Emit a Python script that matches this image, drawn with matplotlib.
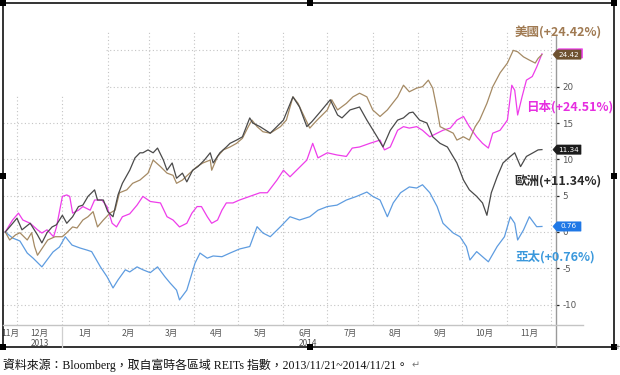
import matplotlib
matplotlib.use('Agg')
import matplotlib.pyplot as plt
import matplotlib.dates as mdates
import matplotlib.transforms as mtransforms
from matplotlib.patches import Rectangle, Polygon
from matplotlib.lines import Line2D
import numpy as np
import pandas as pd

plt.rcParams['font.family'] = ['Noto Sans CJK TC', 'DejaVu Sans']

# ---------------- data (days since 2013-11-21, % change) ----------------
BASE_DATE = '2013-11-21'

us_days = [2,5,9,12,17,20,22,24,28,31,36,41,44,48,51,55,58.5,62,65,69,73.5,77,80,85,89,94,99.5,103,108,112.5,
           116.6,119,123,128,133,137,142,143,147,151,155.5,160,164,168,170.5,174,178,183,190,194,198.5,202,205,210,
           215,222,225,229,235,239.5,244,249,253,258,263,270,274,278,283,287,291,294,297,299,304,308,310.5,315,319,
           323,326,331,335,340,345,349,352,356,360,364,366,368.6]
us_vals = [0.0,-1.1,-0.4,-0.1,-1.1,-0.1,-2.0,-3.2,-2.0,-1.1,-0.65,-0.65,-0.1,0.7,0.55,1.65,2.1,2.8,0.7,1.65,
           2.6,3.0,5.4,5.8,6.7,7.15,8.1,9.9,9.0,8.1,7.8,6.7,7.15,8.1,9.0,9.5,9.9,8.5,10.4,11.3,
           11.7,12.2,12.9,14.5,15.4,14.5,13.8,13.6,14.5,15.4,18.6,17.7,16.4,14.3,15.4,16.8,18.2,16.8,17.7,18.6,
           19.1,18.6,16.8,15.9,16.8,18.6,20.2,19.3,19.8,20.0,20.9,19.8,16.8,14.5,14.0,13.6,12.65,13.1,12.65,14.5,
           15.4,17.7,20.0,21.9,23.25,25.0,24.8,24.1,23.66,23.25,23.9,24.42]

eu_days = [2,5,10,13.4,19,24,27,30.5,34,37,41,44,48,52,55,58.5,63,65,69,72,75.6,79,82,87,90.6,94,96,99.5,103,106,
           110,112.5,116,119,123,126,130,133.6,138,142,144,148.6,153,155.5,160,164,169,171,176,183,192,198.5,203,208,
           211.5,217,224,229,232,237.5,244,249,256,260,265,270,274,278,280.5,285,290,294,299,304,310.5,315,319,324,
           328,331,334,338,342,347,350,354,358,362.5,366,368.6]
eu_vals = [0.0,0.7,1.9,0.3,1.2,-0.4,-1.5,-0.1,0.7,1.0,2.3,1.2,2.1,3.5,3.7,4.9,5.8,4.4,4.4,2.8,
           2.1,5.1,6.7,8.5,10.2,10.9,10.9,11.3,10.9,11.55,9.9,8.5,9.5,7.4,8.1,6.9,8.5,9.0,9.9,10.9,
           9.5,10.9,11.7,12.2,12.65,13.1,15.7,15.0,14.5,13.6,15.4,18.6,17.2,14.5,15.2,16.5,18.2,16.1,15.7,16.8,
           17.2,15.4,13.1,11.7,14.0,15.4,15.7,16.4,16.5,15.4,15.0,13.1,12.2,11.7,9.5,7.15,5.8,4.9,4.0,2.3,
           5.4,7.6,9.5,10.4,10.9,9.0,10.4,10.9,11.3,11.34]

jp_days = [2,5,7,11,14,19,24,27,30.5,35,37,41,44,46,48,52,55,60,63,68,71.5,75,78,82,87,92,96,101,108,112.5,
           116.6,121,126,129.5,133,136,140,143,147,150,153,157.5,162,169,176,181,187.6,192,196.5,201,
           208,212,215.6,222,228.6,235,239,244,251,258,261,265,270,274,278,283,287,292,297,301,
           306,310.5,315,319,324,328,332,335,340,345,348,350,352,355,358,362,365,368.6]
jp_vals = [0.0,1.0,1.65,2.6,1.65,1.2,0.3,-0.14,0.3,-0.65,0.7,4.9,5.1,4.9,2.6,3.0,3.5,3.0,4.4,4.4,
           3.5,1.2,0.7,2.1,2.5,3.7,4.9,4.2,4.0,2.1,1.65,0.7,1.2,2.6,3.5,3.5,2.1,1.2,1.65,3.0,
           4.0,4.0,4.4,4.9,5.4,5.4,7.15,8.5,7.6,8.5,9.9,12.2,10.2,10.9,10.6,10.4,11.55,11.7,12.2,12.65,
           11.3,11.7,14.0,14.5,14.3,14.5,14.0,13.1,13.6,14.0,14.3,15.4,15.9,14.5,13.1,12.2,11.55,13.6,14.0,15.4,
           20.2,19.5,16.1,18.6,20.9,21.4,22.7,24.51]

ap_days = [2,7,12,17,21,27,30.5,34.6,39,43,47.6,53,58,61,67,71.5,75.6,79,84,87,92,96,101,106,111,114.5,119,121,126,131.6,
           135,140,144,150,155.5,162,169,174,178,183,190,196.5,203,210,215.6,222,228.6,235,242,249,
           253,258,263,267,272,278,283,287,292,297,301,308,312.6,317,319.4,324,328,332,338,343,
           347,350,352,356,360,365,368.6]
ap_vals = [0.0,-0.83,-1.24,-2.9,-3.6,-4.8,-3.85,-2.75,-2.06,-0.65,-1.8,-2.2,-2.5,-2.7,-4.8,-6.15,-7.7,-6.6,-5.2,-5.5,
           -4.8,-5.2,-5.6,-4.8,-6.15,-7.0,-8.0,-9.35,-8.0,-4.3,-2.9,-3.6,-3.3,-3.4,-2.9,-2.34,-2.0,0.73,-0.14,-0.65,
           0.73,2.1,1.65,2.1,3.0,3.5,3.7,4.4,4.9,5.5,4.9,4.4,2.1,4.0,5.4,6.2,6.05,6.5,5.4,3.5,
           1.2,-0.14,-0.65,-2.0,-3.85,-2.7,-3.4,-4.1,-2.0,-0.65,2.1,1.2,-1.1,0.28,2.1,0.73,0.76]

series_labels = ['美國(+24.42%)', '日本(+24.51%)', '歐洲(+11.34%)', '亞太(+0.76%)']
last_values = [24.42, 24.51, 11.34, 0.76]
month_labels = ['11月', '12月', '1月', '2月', '3月', '4月', '5月', '6月', '7月', '8月', '9月', '10月', '11月']
year_labels = ['2013', '2014']
y_ticks = [-10, -5, 0, 5, 10, 15, 20, 25]
caption = '資料來源：Bloomberg，取自富時各區域 REITs 指數，2013/11/21~2014/11/21。'

# ---------------- styling ----------------
C_US = '#a58a64'
C_EU = '#4a4a4a'
C_JP = '#ee3dea'
C_AP = '#5e9ce0'
W, H = 620, 375


def fx(px):
    return px / W


def fy(py):
    return 1 - py / H


fig = plt.figure(figsize=(W / 100, H / 100), dpi=100)
ax = fig.add_axes([fx(3), fy(325), (556 - 3) / W, (325 - 30) / H])

base = mdates.date2num(np.datetime64(BASE_DATE))
grid_kw = dict(color='#c4c4c4', lw=0.8, ls=(0, (1, 2.2)))

for d, v, c in [(ap_days, ap_vals, C_AP), (jp_days, jp_vals, C_JP),
                (us_days, us_vals, C_US), (eu_days, eu_vals, C_EU)]:
    ax.plot(base + np.array(d), v, color=c, lw=0.9, zorder=3)

ax.set_xlim(base + 0.44, base + 378.2)
ax.set_ylim(-12.8, 27.8)

month_starts = mdates.date2num(pd.date_range('2013-12-01', '2014-12-01', freq='MS').values)
ax.set_xticks(month_starts)
ax.set_axisbelow(True)
ax.xaxis.grid(True, **grid_kw)
ax.tick_params(axis='x', length=0, labelbottom=False)

ax.yaxis.tick_right()
ax.set_yticks(y_ticks)
ax.set_yticklabels([str(t) if t != 25 else '' for t in y_ticks])
ax.yaxis.grid(True, **grid_kw)
ax.tick_params(axis='y', length=2.5, width=0.9, color='#222222', pad=2,
               labelsize=6.3, labelcolor='#555555', direction='out')
for lab in ax.get_yticklabels():
    lab.set_family('DejaVu Sans')
for s in ax.spines.values():
    s.set_visible(False)

# blank legend area in top-left (grid hidden there)
ax.add_patch(Rectangle((0, (325 - 96) / 295), (105 - 3) / 553, 1 - (325 - 96) / 295,
                       transform=ax.transAxes, fc='white', ec='none', zorder=1))

# axis lines
fig.add_artist(Line2D([fx(556), fx(556)], [fy(36), fy(347)], color='#9a9a9a', lw=1.0))
fig.add_artist(Line2D([fx(3), fx(583)], [fy(325), fy(325)], color='#c4c4c4', lw=1.0))
fig.add_artist(Line2D([fx(62), fx(62)], [fy(327), fy(347)], color='#cfcfcf', lw=0.9))

# month / year labels
tr = mtransforms.blended_transform_factory(ax.transData, fig.transFigure)
edges = np.concatenate([[base + 1.5], month_starts])
centers = (edges[:-1] + edges[1:]) / 2
for cx, lab in zip(centers, month_labels):
    ax.text(cx, fy(333), lab, transform=tr, ha='center', va='center', fontsize=6.2,
            color='#555555', clip_on=False)
ax.text(centers[1], fy(343), year_labels[0], transform=tr, ha='center', va='center',
        fontsize=6.0, color='#555555', clip_on=False)
ax.text(centers[7] + 2, fy(343), year_labels[1], transform=tr, ha='center', va='center',
        fontsize=6.0, color='#555555', clip_on=False)


# value tags on the right axis
def tag(val, fc, show_text=True, dx=0, dy=0):
    yd = ax.transData.transform((base, val))[1] + dy
    x0 = 556 + dx
    verts = [(x0 - 3, yd), (x0 + 1, yd + 4.6), (x0 + 25, yd + 4.6), (x0 + 25, yd - 4.6), (x0 + 1, yd - 4.6)]
    verts = [(a / W, b / H) for a, b in verts]
    fig.add_artist(Polygon(verts, closed=True, transform=fig.transFigure, fc=fc, ec=fc, lw=0.5, zorder=5))
    if show_text:
        fig.text((x0 + 13) / W, yd / H, f'{val:.2f}', ha='center', va='center', fontsize=5.2,
                 color='white', family='DejaVu Sans', zorder=6)


tag(last_values[1], C_JP, show_text=False, dx=1.5, dy=0.5)
tag(last_values[0], '#6e5230')
tag(last_values[2], '#1c1c1c')
tag(last_values[3], '#1f78e6')

# series labels
fig.text(fx(558), fy(33), series_labels[0], ha='center', va='center', fontsize=9,
         fontweight='bold', color='#a07a52')
fig.text(fx(570), fy(107), series_labels[1], ha='center', va='center', fontsize=9,
         fontweight='bold', color='#e62ee0')
fig.text(fx(558), fy(182), series_labels[2], ha='center', va='center', fontsize=9,
         fontweight='bold', color='#2b2b2b')
fig.text(fx(555), fy(257), series_labels[3], ha='center', va='center', fontsize=9,
         fontweight='bold', color='#3a98dc')

# picture frame with handles
fig.add_artist(Rectangle((fx(3), fy(347)), (614 - 3) / W, (347 - 3) / H, transform=fig.transFigure,
                         fill=False, ec='#111111', lw=1.2))
for hx, hy in [(3, 3), (310, 3), (614, 3), (3, 176), (614, 176), (3, 347), (310, 347), (614, 347)]:
    fig.add_artist(Rectangle((fx(hx - 3), fy(hy + 3)), 6 / W, 6 / H, transform=fig.transFigure,
                             fc='black', ec='none'))
fig.text(fx(614.5), fy(347), '+', ha='left', va='center', fontsize=5, color='#555555',
         family='DejaVu Sans')

# caption
t = fig.text(fx(3), fy(365), caption, ha='left', va='center', fontsize=8.6, color='#111111',
             family=['Liberation Serif', 'Noto Sans CJK TC', 'DejaVu Sans'])
fig.canvas.draw()
bb = t.get_window_extent()
fig.text((bb.x1 + 3) / W, fy(365), '↵', ha='left', va='center', fontsize=7, color='#777777',
         family='DejaVu Sans')

fig.savefig('out.png', dpi=100)
